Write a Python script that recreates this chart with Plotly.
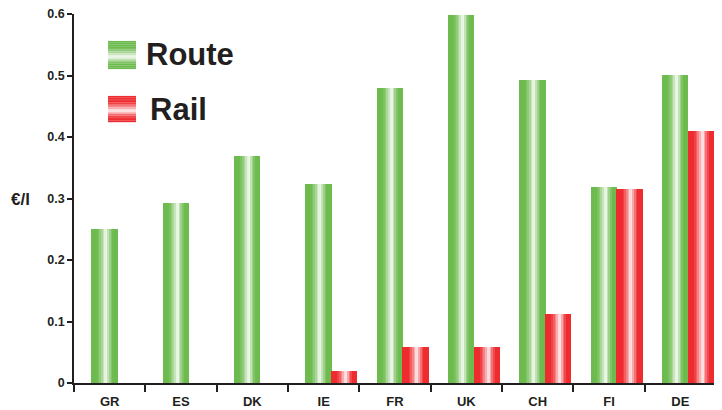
import plotly.graph_objects as go

categories = ["GR", "ES", "DK", "IE", "FR", "UK", "CH", "FI", "DE"]
route_values = [0.250, 0.293, 0.369, 0.324, 0.480, 0.598, 0.493, 0.319, 0.501]
rail_values = [None, None, None, 0.020, 0.058, 0.058, 0.112, 0.315, 0.410]
y_tick_values = [0, 0.1, 0.2, 0.3, 0.4, 0.5, 0.6]
y_tick_labels = ["0", "0.1", "0.2", "0.3", "0.4", "0.5", "0.6"]

GREEN = (109, 187, 79)
RED = (238, 43, 47)
INK = "#231F20"
FONT = "Liberation Sans, Arial, Helvetica, sans-serif"

N_STRIPES = 16
BAR_W = 0.36
PEAK = 0.57


def shade(base, t):
    d = abs(t - PEAK)
    span = 0.36 if t < PEAK else 0.28
    f = max(0.0, 1 - d / span) ** 1.4
    r, g, b = (int(round(c + (255 - c) * f * 0.97)) for c in base)
    return f"rgb({r},{g},{b})"


fig = go.Figure()


def add_gradient_bars(values, base, offset):
    sw = BAR_W / N_STRIPES
    for i in range(N_STRIPES):
        t = (i + 0.5) / N_STRIPES
        fig.add_trace(go.Bar(
            x=categories, y=values,
            width=sw * 1.03, offset=offset + i * sw,
            marker=dict(color=shade(base, t), line=dict(width=0)),
            showlegend=False, hoverinfo="skip",
        ))


add_gradient_bars(route_values, GREEN, -0.25)
add_gradient_bars(rail_values, RED, -0.25 + BAR_W)


def vswatch(base, x0, x1, y0, y1):
    n = 16
    h = (y1 - y0) / n
    for i in range(n):
        t = (i + 0.5) / n
        fig.add_shape(type="rect", xref="paper", yref="paper",
                      x0=x0, x1=x1,
                      y0=y1 - (i + 1) * h - h * 0.05, y1=y1 - i * h,
                      line=dict(width=0), fillcolor=shade(base, t))


vswatch(GREEN, 0.053, 0.0966, 0.851, 0.927)
vswatch(RED, 0.053, 0.0966, 0.707, 0.778)

fig.add_annotation(text="<b>Route</b>", xref="paper", yref="paper",
                   x=0.109, y=0.889, xanchor="left", yanchor="middle",
                   showarrow=False, font=dict(family=FONT, size=31, color=INK))
fig.add_annotation(text="<b>Rail</b>", xref="paper", yref="paper",
                   x=0.115, y=0.742, xanchor="left", yanchor="middle",
                   showarrow=False, font=dict(family=FONT, size=31, color=INK))
fig.add_annotation(text="<b>€/l</b>", xref="paper", yref="paper",
                   x=-0.084, y=0.4986, xanchor="center", yanchor="middle",
                   showarrow=False, font=dict(family=FONT, size=17, color=INK))

fig.update_layout(
    width=722, height=410,
    margin=dict(l=66, r=14, t=6, b=35, autoexpand=False),
    paper_bgcolor="white", plot_bgcolor="white",
    barmode="overlay", bargap=0,
    showlegend=False,
    font=dict(family=FONT, color=INK),
)
fig.update_xaxes(
    type="category", range=[-0.5, 8.5],
    showline=True, linecolor=INK, linewidth=1.5,
    ticks="outside", tickson="boundaries", ticklen=7, tickwidth=1.5, tickcolor=INK,
    showgrid=False, zeroline=False, automargin=False,
    tickfont=dict(family=FONT, size=13, color=INK),
    tickprefix="<b>", ticksuffix="</b>",
    ticklabelstandoff=6,
)
fig.update_yaxes(
    range=[0, 0.6001],
    tickvals=y_tick_values, ticktext=[f"<b>{t}</b>" for t in y_tick_labels],
    showline=True, linecolor=INK, linewidth=1.5,
    ticks="outside", ticklen=5, tickwidth=1.5, tickcolor=INK,
    showgrid=False, zeroline=False, automargin=False,
    ticklabeloverflow="allow",
    tickfont=dict(family=FONT, size=12.5, color=INK),
)

fig.write_html("out.html")
